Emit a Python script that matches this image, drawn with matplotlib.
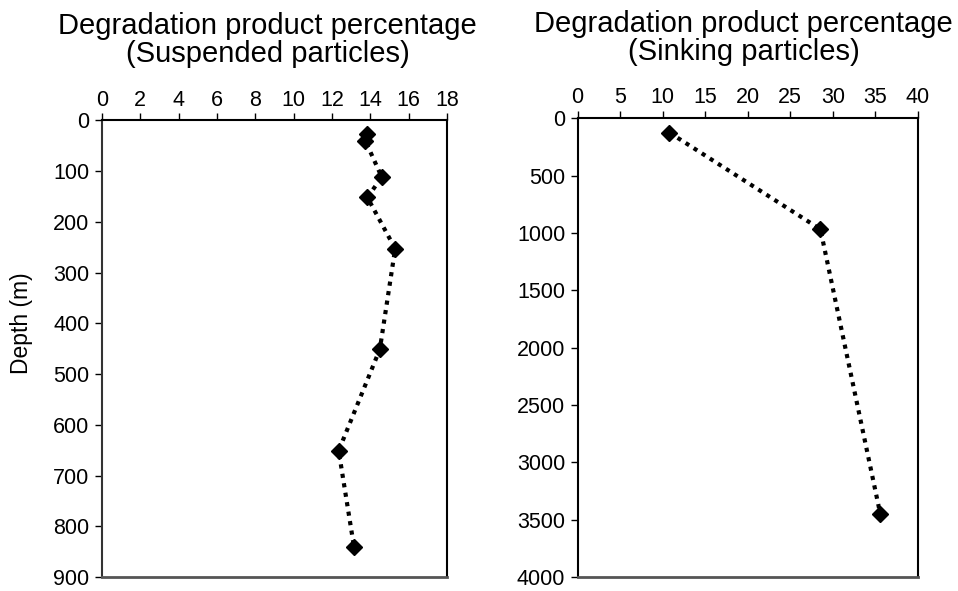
import matplotlib
matplotlib.use('agg')
import matplotlib.pyplot as plt

plt.rcParams['font.family'] = ['Liberation Sans', 'DejaVu Sans']

# suspended particles
susp_pct = [13.85, 13.75, 14.6, 13.85, 15.3, 14.5, 12.35, 13.15]
susp_depth = [28, 41, 112, 152, 253, 451, 651, 840]

# sinking particles
sink_pct = [10.8, 28.55, 35.6]
sink_depth = [126, 968, 3453]

fig = plt.figure(figsize=(9.58, 5.91), dpi=100)
ax1 = fig.add_axes([0.1065, 0.0235, 0.360, 0.773])
ax2 = fig.add_axes([0.603, 0.0235, 0.355, 0.7765])


def style(ax, xs, ys, xmax, xstep, ymax, ystep, title, tx):
    ax.plot(xs, ys, color='black', linestyle=(0, (1, 1.3)),
            linewidth=3, marker='D', markersize=8, markerfacecolor='black',
            markeredgecolor='black')
    ax.set_xlim(0, xmax)
    ax.set_ylim(ymax, 0)
    ax.set_xticks(range(0, xmax + 1, xstep))
    ax.set_yticks(range(0, ymax + 1, ystep))
    ax.xaxis.tick_top()
    ax.tick_params(axis='both', labelsize=15.5, length=5, width=1,
                   direction='out', colors='black')
    ax.tick_params(axis='x', pad=2)
    ax.tick_params(axis='y', pad=4)
    for s in ['top', 'left', 'right']:
        ax.spines[s].set_color('black')
        ax.spines[s].set_linewidth(1.5)
    ax.spines['bottom'].set_color('#555555')
    ax.spines['bottom'].set_linewidth(2)
    ax.set_title(title, fontsize=21, pad=20, linespacing=1.0, x=tx)


style(ax1, susp_pct, susp_depth, 18, 2, 900, 100,
      'Degradation product percentage\n(Suspended particles)', 0.48)
style(ax2, sink_pct, sink_depth, 40, 5, 4000, 500,
      'Degradation product percentage\n(Sinking particles)', 0.488)
ax1.spines['left'].set_color('#333333')
ax1.set_ylabel('Depth (m)', fontsize=16.5)
ax1.yaxis.set_label_coords(-0.2, 0.555)

fig.savefig('out.png', dpi=100)
